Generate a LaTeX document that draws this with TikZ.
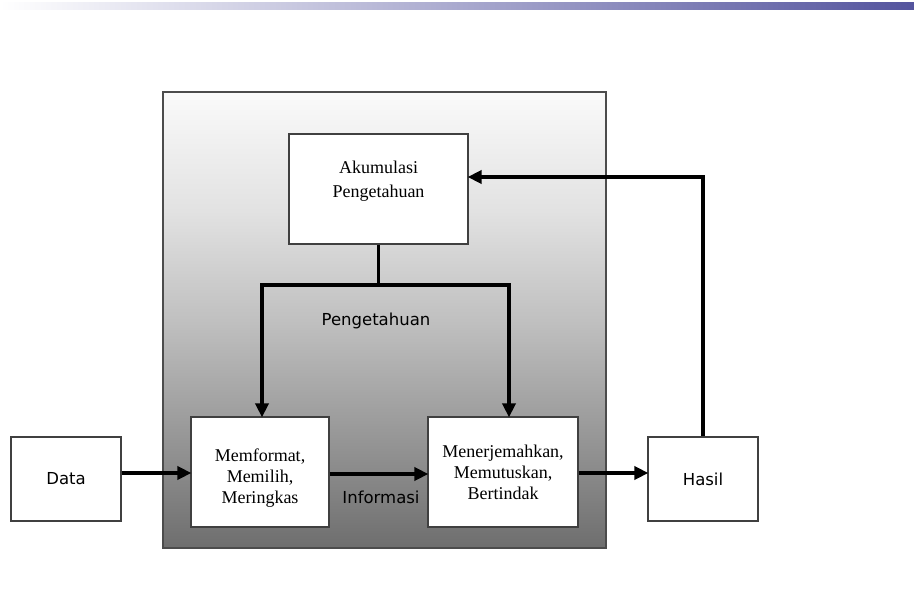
\documentclass[tikz,border=0pt]{standalone}
\usepackage{fontspec}
\setmainfont{Liberation Serif}
\newfontfamily\labelfont{DejaVu Sans}
\usetikzlibrary{arrows.meta,shadings}
\definecolor{barblue}{RGB}{84,84,158}
\definecolor{shBot}{RGB}{110,110,110}
\definecolor{shA}{RGB}{150,150,150}
\definecolor{shMid}{RGB}{192,192,192}
\definecolor{shB}{RGB}{226,226,226}
\definecolor{shTop}{RGB}{250,250,250}
\pgfdeclareverticalshading{boxshade}{100bp}{color(0bp)=(shBot); color(25bp)=(shBot); color(37bp)=(shA); color(50bp)=(shMid); color(62bp)=(shB); color(75bp)=(shTop); color(100bp)=(shTop)}
\tikzset{
  procbox/.style={draw=black!75, line width=1.2pt, fill=white, align=center, font=\fontsize{18}{21}\selectfont, inner sep=0pt},
  proctext/.style={align=center, font=\fontsize{18}{21}\selectfont, inner sep=0pt},
  endbox/.style={draw=black!75, line width=1.2pt, fill=white, font=\labelfont\fontsize{16.5}{19}\selectfont, inner sep=0pt},
  lbl/.style={font=\labelfont\fontsize{16.5}{19}\selectfont, inner sep=0pt},
  flow/.style={line width=3.8pt, -{Triangle[length=14pt,width=13pt]}, shorten >=-1pt},
  plainline/.style={line width=3.8pt}
}
\begin{document}
\begin{tikzpicture}[x=1pt,y=-1pt]
\useasboundingbox (0,0) rectangle (914,615);
% top bar
\shade[left color=white, right color=barblue] (0,3) rectangle (914,10);
% big shaded box
\shade[shading=boxshade] (163,92) rectangle (606,548);
\draw[black!70, line width=1.5pt] (163,92) rectangle (606,548);
% nodes
\node[procbox, minimum width=179pt, minimum height=110pt] (akum) at (378.5,189) {};
\node[proctext, font=\fontsize{18}{23.5}\selectfont] (akumtxt) at (378.5,181) {Akumulasi\\Pengetahuan};
\node[procbox, minimum width=138pt, minimum height=110pt] (memf) at (260,472) {};
\node[proctext] (memftxt) at (260,478) {Memformat,\\Memilih,\\Meringkas};
\node[procbox, minimum width=150pt, minimum height=110pt] (mene) at (503,472) {Menerjemahkan,\\Memutuskan,\\Bertindak};
\node[endbox, minimum width=110pt, minimum height=84pt] (data) at (66,479) {Data};
\node[endbox, minimum width=110pt, minimum height=84pt] (hasil) at (703,479) {Hasil};
% labels
\node[lbl] (pengl) at (376,321) {Pengetahuan};
\node[lbl] (infol) at (381,497) {Informasi};
% connectors
\coordinate (split) at (akum.south |- 0,285);
\coordinate (lft) at (262,285);
\coordinate (rgt) at (509,285);
\coordinate (corner) at (hasil.north |- 0,177);
\draw[plainline] (akum.south) -- (split);
\draw[line width=3.8pt, line join=miter] (lft) -- (rgt);
\draw[flow, line join=miter] ([xshift=-1.9pt]lft) -- ++(1.9pt,0) -- (lft |- memf.north);
\draw[flow, line join=miter] ([xshift=1.9pt]rgt) -- ++(-1.9pt,0) -- (rgt |- mene.north);
\draw[flow] (data.east |- 0,473) -- (memf.west |- 0,473);
\draw[flow] (memf.east |- 0,474) -- (mene.west |- 0,474);
\draw[flow] (mene.east |- 0,473) -- (hasil.west |- 0,473);
\draw[flow, line join=miter] (hasil.north) -- (corner) -- (akum.east |- 0,177);
\end{tikzpicture}
\end{document}
